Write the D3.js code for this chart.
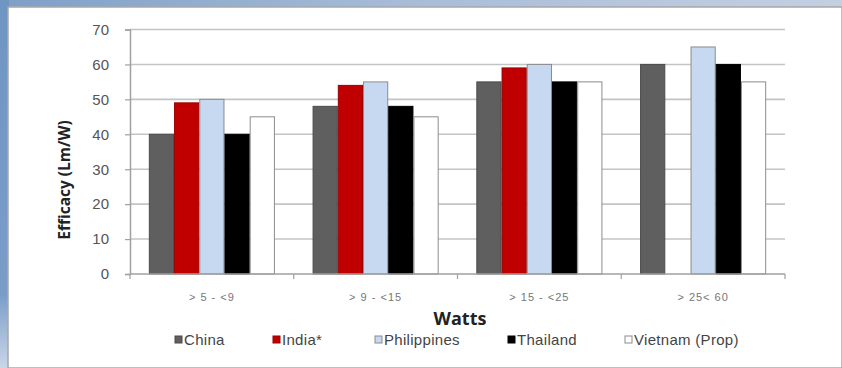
<!DOCTYPE html>
<html><head><meta charset="utf-8">
<script src="https://cdn.jsdelivr.net/npm/d3@7"></script>
<style>body{margin:0;padding:0;background:#fff;}svg{display:block;}</style>
</head><body>
<svg id="chart" width="842" height="368"></svg>
<script>
const categories = ["> 5 - <9", "> 9 - <15", "> 15 - <25", "> 25< 60"];
const seriesNames = ["China", "India*", "Philippines", "Thailand", "Vietnam (Prop)"];
const china = [40, 48, 55, 60];
const india = [49, 54, 59, null];
const philippines = [50, 55, 60, 65];
const thailand = [40, 48, 55, 60];
const vietnam = [45, 45, 55, 55];
const yTicks = [0, 10, 20, 30, 40, 50, 60, 70];
const colors = ["#5f5f5f", "#c00000", "#c6d9f1", "#000000", "#ffffff"];
const strokes = ["#4a4a4a", "#9a0000", "#8c8c8c", "#000000", "#8c8c8c"];

const seriesValues = [china, india, philippines, thailand, vietnam];
const svg = d3.select("#chart");

// slide background
const defs = svg.append("defs");
const g1 = defs.append("linearGradient").attr("id","topg").attr("x1","0").attr("x2","1");
g1.append("stop").attr("offset","0").attr("stop-color","#7f9fc8");
g1.append("stop").attr("offset","0.5").attr("stop-color","#a8bdd8");
g1.append("stop").attr("offset","1").attr("stop-color","#c3d0e2");
svg.append("rect").attr("x",0).attr("y",0).attr("width",842).attr("height",368).attr("fill","url(#topg)");
const g2 = defs.append("linearGradient").attr("id","leftg").attr("x1","0").attr("x2","0").attr("y1","0").attr("y2","1");
g2.append("stop").attr("offset","0").attr("stop-color","#6f95c3");
g2.append("stop").attr("offset","0.8").attr("stop-color","#7a9dc8");
g2.append("stop").attr("offset","1").attr("stop-color","#c9d6e8");
svg.append("rect").attr("x",0).attr("y",0).attr("width",9).attr("height",368).attr("fill","url(#leftg)");
svg.append("rect").attr("x",8).attr("y",7).attr("width",834).attr("height",361).attr("fill","#ffffff")
  .attr("stroke","#a8a8a8").attr("stroke-width",1.5);

const x0 = d3.scaleBand().domain(categories).range([130, 785]).paddingInner(0.23).paddingOuter(0.115);
const x1 = d3.scaleBand().domain(seriesNames).range([0, x0.bandwidth()]).padding(0);
const y = d3.scaleLinear().domain([0, 70]).range([274, 29.5]);

// gridlines
svg.append("g").selectAll("line").data(yTicks.filter(d => d > 0)).join("line")
  .attr("x1", 130).attr("x2", 785)
  .attr("y1", d => y(d)).attr("y2", d => y(d))
  .attr("stroke", "#c4c4c4").attr("stroke-width", 1.6);

// y axis
const yAxis = svg.append("g").attr("transform", "translate(130,0)")
  .call(d3.axisLeft(y).tickValues(yTicks).tickSize(5).tickPadding(16));
yAxis.select(".domain").attr("stroke", "#a0a0a0").attr("stroke-width", 1.5);
yAxis.selectAll(".tick line").attr("stroke", "#a0a0a0").attr("stroke-width", 1.2);
yAxis.selectAll(".tick text").attr("fill", "#555").style("font-family", "'Liberation Sans', Arial, sans-serif")
  .style("font-size", "15px");

// bars
const rows = [];
categories.forEach((c, i) => {
  seriesNames.forEach((s, j) => {
    const v = seriesValues[j][i];
    if (v !== null) rows.push({c, s, j, v});
  });
});
svg.append("g").selectAll("rect").data(rows).join("rect")
  .attr("x", d => x0(d.c) + x1(d.s) + 0.5)
  .attr("y", d => y(d.v))
  .attr("width", x1.bandwidth() - 1)
  .attr("height", d => y(0) - y(d.v))
  .attr("fill", d => colors[d.j])
  .attr("stroke", d => strokes[d.j]).attr("stroke-width", 1);

// x axis
const xAxis = svg.append("g").attr("transform", "translate(0,274)")
  .call(d3.axisBottom(x0).tickSize(0).tickPadding(19));
xAxis.select(".domain").attr("stroke", "#a0a0a0").attr("stroke-width", 1.5).attr("d", "M130,0H785");
xAxis.selectAll(".tick text").attr("fill", "#777").style("font-family", "'Liberation Sans', Arial, sans-serif")
  .style("font-size", "11px").style("letter-spacing", "1px");
// boundary tick marks
const bounds = categories.map((c, i) => 130 + i * x0.step()).concat([785]);
svg.append("g").selectAll("line").data(bounds).join("line")
  .attr("x1", d => d).attr("x2", d => d).attr("y1", 274).attr("y2", 279)
  .attr("stroke", "#a0a0a0").attr("stroke-width", 1.2);

// axis titles
svg.append("text").attr("x", 460).attr("y", 325).attr("text-anchor", "middle")
  .style("font-family", "'Open Sans', 'Liberation Sans', sans-serif").style("font-weight", "bold")
  .style("font-size", "18px").attr("fill", "#222").text("Watts");
svg.append("text").attr("transform", "translate(70,180) rotate(-90)").attr("text-anchor", "middle")
  .style("font-family", "'Open Sans', 'Liberation Sans', sans-serif").style("font-weight", "bold")
  .style("font-size", "15.5px").attr("fill", "#222").text("Efficacy (Lm/W)");

// legend
const legendX = [175, 273, 375, 508, 625];
const lg = svg.append("g").selectAll("g").data(seriesNames).join("g")
  .attr("transform", (d, i) => `translate(${legendX[i]},340)`);
lg.append("rect").attr("x", 0).attr("y", -4).attr("width", 7).attr("height", 7)
  .attr("fill", (d, i) => colors[i]).attr("stroke", (d, i) => strokes[i]).attr("stroke-width", 1);
lg.append("text").attr("x", 9).attr("y", 5).text(d => d)
  .style("font-family", "'Liberation Sans', Arial, sans-serif").style("font-size", "15px")
  .style("letter-spacing", "0.3px").attr("fill", "#444");
</script>
</body></html>
